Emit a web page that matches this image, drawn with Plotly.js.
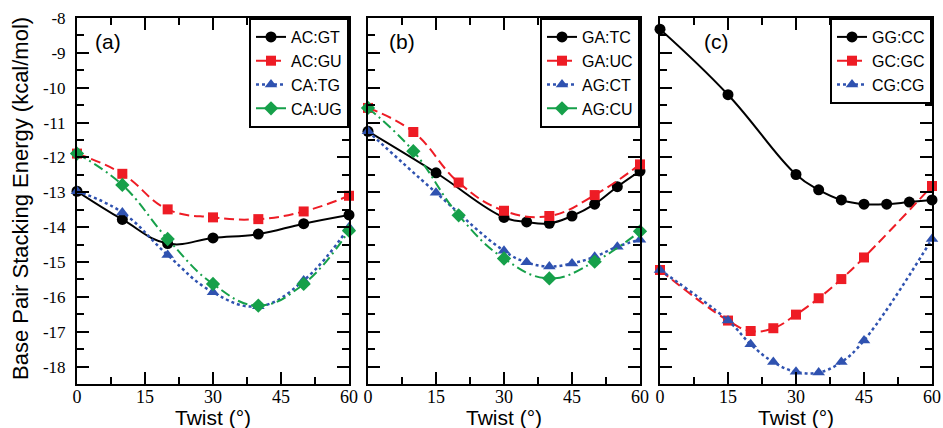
<!DOCTYPE html>
<html>
<head>
<meta charset="utf-8">
<script src="https://cdn.plot.ly/plotly-3.0.1.min.js"></script>
<style>html,body{margin:0;padding:0;background:#fff;}#chart{width:943px;height:428px;}</style>
</head>
<body>
<div id="chart"></div>
<script>
// ---- Data ----
const twistA = [0, 10, 20, 30, 40, 50, 60];
const AC_GT = [-12.97, -13.78, -14.47, -14.31, -14.20, -13.90, -13.65];
const AC_GU = [-11.89, -12.47, -13.49, -13.72, -13.77, -13.55, -13.10];
const CA_TG = [-12.97, -13.58, -14.80, -15.87, -16.27, -15.53, -14.00];
const CA_UG = [-11.89, -12.79, -14.34, -15.63, -16.25, -15.63, -14.10];

const twistB1 = [0, 15, 30, 35, 40, 45, 50, 55, 60];
const twistB2 = [0, 10, 20, 30, 40, 50, 60];
const GA_TC = [-11.25, -12.44, -13.72, -13.85, -13.89, -13.68, -13.34, -12.84, -12.39];
const GA_UC = [-10.58, -11.27, -12.72, -13.53, -13.68, -13.08, -12.20];
const AG_CT = [-11.25, -13.01, -14.68, -15.01, -15.13, -15.04, -14.85, -14.56, -14.36];
const AG_CU = [-10.58, -11.82, -13.66, -14.90, -15.47, -14.99, -14.12];

const twistC1 = [0, 15, 30, 35, 40, 45, 50, 55, 60];
const twistC2 = [0, 15, 20, 25, 30, 35, 40, 45, 60];
const GG_CC = [-8.32, -10.20, -12.49, -12.93, -13.22, -13.34, -13.34, -13.28, -13.22];
const GC_GC = [-15.23, -16.68, -16.98, -16.90, -16.51, -16.04, -15.49, -14.87, -12.82];
const CG_CG = [-15.23, -16.68, -17.36, -17.87, -18.15, -18.17, -17.87, -17.25, -14.34];

const xTicks = [0, 15, 30, 45, 60];
const yTicks = [-18, -17, -16, -15, -14, -13, -12, -11, -10, -9, -8];
const panelLabels = ['(a)', '(b)', '(c)'];

// ---- Styles ----
const BLACK = '#000000', RED = '#ee1c25', BLUE = '#2f52b0', GREEN = '#16a04a';
const styles = {
  black: {line: {color: BLACK, width: 2, dash: 'solid', shape: 'spline', smoothing: 1.2}, marker: {symbol: 'circle', size: 11, color: BLACK}},
  red:   {line: {color: RED, width: 2, dash: '10px,5px', shape: 'spline', smoothing: 1.2}, marker: {symbol: 'square', size: 10, color: RED}},
  blue:  {line: {color: BLUE, width: 2.5, dash: 'dot', shape: 'spline', smoothing: 1.2}, marker: {symbol: 'triangle-up', size: 11, color: BLUE}},
  green: {line: {color: GREEN, width: 2, dash: '10px,4px,2px,4px', shape: 'spline', smoothing: 1.2}, marker: {symbol: 'diamond', size: 11, color: GREEN}}
};

function tr(name, x, y, st, ax, leg) {
  return Object.assign({
    type: 'scatter', mode: 'lines+markers', name: name, x: x, y: y,
    xaxis: ax[0], yaxis: ax[1], legend: leg, cliponaxis: false
  }, JSON.parse(JSON.stringify(styles[st])));
}

const data = [
  tr('AC:GT', twistA, AC_GT, 'black', ['x', 'y'], 'legend'),
  tr('AC:GU', twistA, AC_GU, 'red', ['x', 'y'], 'legend'),
  tr('CA:TG', twistA, CA_TG, 'blue', ['x', 'y'], 'legend'),
  tr('CA:UG', twistA, CA_UG, 'green', ['x', 'y'], 'legend'),
  tr('GA:TC', twistB1, GA_TC, 'black', ['x2', 'y2'], 'legend2'),
  tr('GA:UC', twistB2, GA_UC, 'red', ['x2', 'y2'], 'legend2'),
  tr('AG:CT', twistB1, AG_CT, 'blue', ['x2', 'y2'], 'legend2'),
  tr('AG:CU', twistB2, AG_CU, 'green', ['x2', 'y2'], 'legend2'),
  tr('GG:CC', twistC1, GG_CC, 'black', ['x3', 'y3'], 'legend3'),
  tr('GC:GC', twistC2, GC_GC, 'red', ['x3', 'y3'], 'legend3'),
  tr('CG:CG', twistC2, CG_CG, 'blue', ['x3', 'y3'], 'legend3')
];

const W = 943, H = 428, T = 18, B = 44;
const PH = H - T - B;
const doms = [[77 / W, 349 / W], [368 / W, 640 / W], [660 / W, 932 / W]];

function xax(dom, anchor) {
  return {
    domain: dom, anchor: anchor, range: [0, 60], tickvals: xTicks, ticktext: xTicks.map(String),
    ticks: 'inside', ticklen: 12, tickwidth: 2, tickcolor: BLACK,
    minor: {dtick: 7.5, tick0: 0, ticks: 'inside', ticklen: 7, tickwidth: 2, tickcolor: BLACK, showgrid: false},
    showline: true, linewidth: 2, linecolor: BLACK, mirror: 'ticks',
    showgrid: false, zeroline: false, ticklabelstandoff: -5,
    tickfont: {family: 'Liberation Serif, Times New Roman, serif', size: 18, color: BLACK},
    fixedrange: true
  };
}
function yax(anchor, labels) {
  return {
    anchor: anchor, domain: [0, 1], range: [-18.5, -8], tickvals: yTicks, ticktext: yTicks.map(String),
    ticks: 'inside', ticklen: 12, tickwidth: 2, tickcolor: BLACK,
    minor: {dtick: 0.5, tick0: 0, ticks: 'inside', ticklen: 7, tickwidth: 2, tickcolor: BLACK, showgrid: false},
    showline: true, linewidth: 2, linecolor: BLACK, mirror: 'ticks',
    showgrid: false, zeroline: false, showticklabels: labels, ticklabelstandoff: 6,
    tickfont: {family: 'Liberation Serif, Times New Roman, serif', size: 17, color: BLACK},
    fixedrange: true
  };
}
function leg(xr) {
  return {
    x: xr, xref: 'paper', xanchor: 'right', y: 1, yref: 'paper', yanchor: 'top',
    bgcolor: '#ffffff', bordercolor: BLACK, borderwidth: 2,
    font: {family: 'Liberation Sans, Arial, sans-serif', size: 16, color: BLACK},
    tracegroupgap: 0, itemwidth: 30
  };
}

const annotations = [];
const labelX = [108, 401.7, 716];
panelLabels.forEach((t, i) => annotations.push({
  text: t, xref: 'paper', yref: 'paper', x: labelX[i] / W, y: (H - B - 42) / PH,
  xanchor: 'center', yanchor: 'middle', showarrow: false,
  font: {family: 'Liberation Sans, Arial, sans-serif', size: 21, color: BLACK}
}));
doms.forEach(d => annotations.push({
  text: 'Twist (°)', xref: 'paper', yref: 'paper', x: (d[0] + d[1]) / 2, y: -(417 - (H - B)) / PH,
  xanchor: 'center', yanchor: 'middle', showarrow: false,
  font: {family: 'Liberation Sans, Arial, sans-serif', size: 21, color: BLACK}
}));
annotations.push({
  text: 'Base Pair Stacking Energy (kcal/mol)', xref: 'paper', yref: 'paper',
  x: 20 / W, y: (H - B - 199) / PH, xanchor: 'center', yanchor: 'middle', textangle: -90,
  showarrow: false, font: {family: 'Liberation Sans, Arial, sans-serif', size: 22, color: BLACK}
});

const layout = {
  width: W, height: H, margin: {l: 0, r: 0, t: T, b: B},
  paper_bgcolor: '#ffffff', plot_bgcolor: '#ffffff', showlegend: true,
  xaxis: xax(doms[0], 'y'), yaxis: yax('x', true),
  xaxis2: xax(doms[1], 'y2'), yaxis2: yax('x2', false),
  xaxis3: xax(doms[2], 'y3'), yaxis3: yax('x3', false),
  legend: leg(doms[0][1]), legend2: leg(doms[1][1]), legend3: leg(doms[2][1]),
  annotations: annotations
};

Plotly.newPlot('chart', data, layout, {staticPlot: true, displayModeBar: false});
</script>
</body>
</html>
